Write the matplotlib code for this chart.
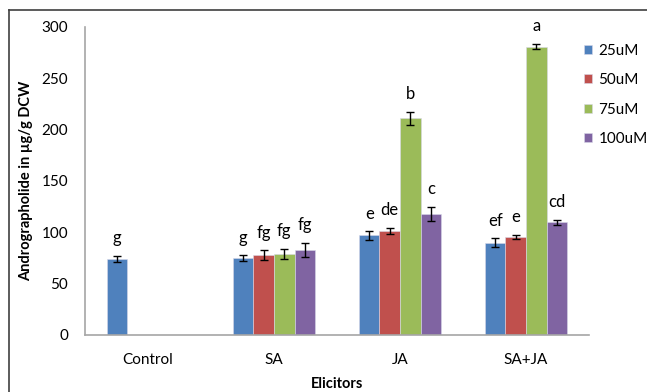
import matplotlib.pyplot as plt
import numpy as np
from matplotlib.lines import Line2D

plt.rcParams['font.family'] = ['Lato', 'DejaVu Sans']

elicitors = ['Control', 'SA', 'JA', 'SA+JA']
doses = ['25uM', '50uM', '75uM', '100uM']
colors = ['#4F81BD', '#C0504D', '#9BBB59', '#8064A2']

# andrographolide content per dose, one value per elicitor
vals_25 = [74, 75, 97, 90]
vals_50 = [0, 78, 101.5, 95.5]
vals_75 = [0, 79, 211, 281]
vals_100 = [0, 82.5, 118, 110]

err_25 = [3, 2.5, 4, 4]
err_50 = [0, 4.5, 3, 2]
err_75 = [0, 5, 6, 2.5]
err_100 = [0, 7, 6.5, 2.5]

lbl_25 = ['g', 'g', 'e', 'ef']
lbl_50 = ['', 'fg', 'de', 'e']
lbl_75 = ['', 'fg', 'b', 'a']
lbl_100 = ['', 'fg', 'c', 'cd']

series = [vals_25, vals_50, vals_75, vals_100]
errors = [err_25, err_50, err_75, err_100]
letters = [lbl_25, lbl_50, lbl_75, lbl_100]

fig = plt.figure(figsize=(6.47, 3.92), dpi=100)
ax = fig.add_axes([85/647, 1-335/392, 504/647, 308/392])

x = np.arange(len(elicitors))
w = 0.163
for i, (v, e, lab) in enumerate(zip(series, errors, letters)):
    pos = x + (i - 1.5) * w
    ax.bar(pos, v, w, color=colors[i], edgecolor='#d8d8e8', linewidth=0.4,
           label=doses[i], zorder=2)
    has = np.array(v) > 0  # no error bar on empty bars
    ax.errorbar(pos[has], np.array(v)[has], yerr=np.array(e)[has], fmt='none',
                ecolor='black', elinewidth=1, capsize=3, capthick=1, zorder=3)
    for xp, vv, ee, t in zip(pos, v, e, lab):
        if t:
            ax.annotate(t, (xp, vv + ee), xytext=(0, 7), textcoords='offset points',
                        ha='center', va='bottom', fontsize=12)

ax.set_xlim(-0.5, 3.5)
ax.set_ylim(0, 300)
ax.set_yticks(range(0, 301, 50))
ax.set_xticks(x)
ax.set_xticklabels(elicitors)
ax.tick_params(length=0, labelsize=11)
ax.tick_params(axis='x', pad=13)
ax.tick_params(axis='y', pad=12)
for s in ['top', 'right']:
    ax.spines[s].set_visible(False)
for s in ['left', 'bottom']:
    ax.spines[s].set_color('#a6a6a6')
    ax.spines[s].set_linewidth(1.2)

ax.set_ylabel('Andrographolide in µg/g DCW', fontsize=10.5, fontweight='bold', labelpad=6)
ax.set_xlabel('Elicitors', fontsize=10.5, fontweight='bold', labelpad=7)

ax.legend(loc='upper left', bbox_to_anchor=(584/647, 1-44/392),
          bbox_transform=fig.transFigure, frameon=False, fontsize=11,
          handlelength=0.55, handleheight=0.55, handletextpad=0.4,
          labelspacing=1.0, borderpad=0, borderaxespad=0)

# outer border of the figure
fig.add_artist(Line2D([9/647, 9/647], [0, 1-10/392], transform=fig.transFigure,
                      color='#404040', linewidth=1.2))
fig.add_artist(Line2D([9/647, 1], [1-10/392, 1-10/392], transform=fig.transFigure,
                      color='#404040', linewidth=1.2))

plt.savefig('out.png', dpi=100)
